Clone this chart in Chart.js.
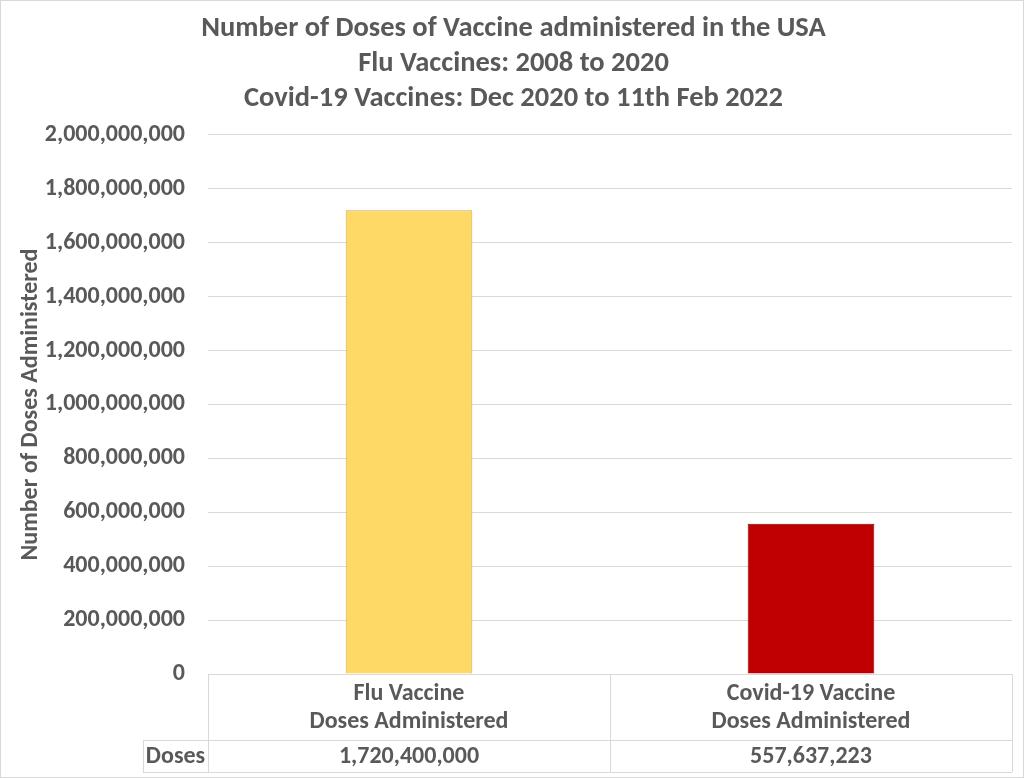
<!DOCTYPE html>
<html>
<head>
<meta charset="utf-8">
<title>Vaccine doses USA</title>
<script src="https://cdn.jsdelivr.net/npm/chart.js@4.4.1/dist/chart.umd.min.js"></script>
<style>
  html, body { margin: 0; padding: 0; background: #ffffff; }
  #wrap { width: 1024px; height: 778px; position: relative; box-sizing: border-box; border: 1px solid #d9d9d9; }
</style>
</head>
<body>
<div id="wrap"><canvas id="dosesChart"></canvas></div>
<script>
// Chart data
const categories = [
    ['Flu Vaccine', 'Doses Administered'],
    ['Covid-19 Vaccine', 'Doses Administered']
];
const doses = [1720400000, 557637223];
const rowLabel = 'Doses';
const titleLines = [
    'Number of Doses of Vaccine administered in the USA',
    'Flu Vaccines: 2008 to 2020',
    'Covid-19 Vaccines: Dec 2020 to 11th Feb 2022'
];
const yMax = 2000000000;
const yStep = 200000000;

const FONT = "Carlito, 'Liberation Sans Narrow', 'DejaVu Sans Condensed', sans-serif";
const TEXT = '#595959';
const GRID = '#d9d9d9';

// Draws the data table under the plot (Excel style)
const dataTablePlugin = {
    id: 'dataTable',
    afterDraw(chart) {
        const ctx = chart.ctx;
        const area = chart.chartArea;
        const x = chart.scales.x;
        const step = x.getPixelForValue(1) - x.getPixelForValue(0);
        const rowTop = area.bottom + 66;
        const rowBottom = rowTop + 32;
        const tableLeft = area.left - 65;

        ctx.save();
        ctx.strokeStyle = GRID;
        ctx.lineWidth = 1;
        ctx.beginPath();
        // column borders
        for (let i = 0; i <= categories.length; i++) {
            const px = Math.round(x.getPixelForValue(0) - step / 2 + i * step) + 0.5;
            ctx.moveTo(px, area.bottom);
            ctx.lineTo(px, rowBottom);
        }
        ctx.moveTo(tableLeft + 0.5, rowTop);
        ctx.lineTo(tableLeft + 0.5, rowBottom);
        ctx.moveTo(tableLeft, rowTop + 0.5);
        ctx.lineTo(area.right, rowTop + 0.5);
        ctx.moveTo(tableLeft, rowBottom + 0.5);
        ctx.lineTo(area.right, rowBottom + 0.5);
        ctx.stroke();

        ctx.fillStyle = TEXT;
        ctx.font = 'bold 24px ' + FONT;
        ctx.textAlign = 'center';
        ctx.textBaseline = 'middle';
        const midY = (rowTop + rowBottom) / 2 + 1;
        ctx.fillText(rowLabel, (tableLeft + area.left) / 2, midY);
        doses.forEach((v, i) => {
            ctx.fillText(v.toLocaleString('en-US'), x.getPixelForValue(i), midY);
        });
        ctx.restore();
    }
};

const ctx = document.getElementById('dosesChart').getContext('2d');
const dosesChart = new Chart(ctx, {
    type: 'bar',
    data: {
        labels: categories,
        datasets: [{
            label: rowLabel,
            data: doses,
            backgroundColor: ['#ffd966', '#c00000'],
            borderColor: ['#d4a84a', '#7a0000'],
            borderWidth: 1,
            categoryPercentage: 1.0,
            barPercentage: 0.315
        }]
    },
    options: {
        responsive: true,
        maintainAspectRatio: false,
        animation: false,
        layout: { padding: { left: 14, right: 11, top: 8, bottom: 5 } },
        plugins: {
            legend: { display: false },
            tooltip: { enabled: false },
            title: {
                display: true,
                text: titleLines,
                color: TEXT,
                font: { family: FONT, size: 28.5, weight: 'bold', lineHeight: 1.228 },
                padding: { top: 2, bottom: 19 }
            }
        },
        scales: {
            x: {
                grid: { display: false },
                border: { display: false },
                ticks: {
                    color: TEXT,
                    font: { family: FONT, size: 24, weight: 'bold', lineHeight: 1.17 },
                    padding: -2,
                    maxRotation: 0
                },
                afterFit(scale) { scale.height = 98; }
            },
            y: {
                min: 0,
                max: yMax,
                grid: { color: GRID, drawTicks: false },
                border: { display: false },
                ticks: {
                    stepSize: yStep,
                    color: TEXT,
                    padding: 23,
                    font: { family: FONT, size: 24, weight: 'bold' },
                    callback: v => v.toLocaleString('en-US')
                },
                title: {
                    display: true,
                    text: 'Number of Doses Administered',
                    color: TEXT,
                    font: { family: FONT, size: 24, weight: 'bold' },
                    padding: { top: 2, bottom: 8 }
                },
                afterFit(scale) { scale.width = 193; }
            }
        }
    },
    plugins: [dataTablePlugin]
});
</script>
</body>
</html>
